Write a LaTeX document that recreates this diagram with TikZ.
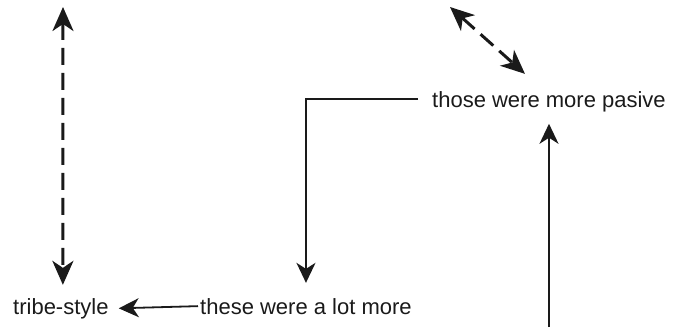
\documentclass[tikz,border=0pt]{standalone}
\usepackage{fontspec}
\setmainfont{Liberation Sans}
\usetikzlibrary{arrows.meta}
\definecolor{ink}{HTML}{1A1A1A}
\tikzset{
  lbl/.style={inner sep=0pt, anchor=base west, text=ink, font=\fontsize{22}{26}\selectfont},
  solidarrow/.style={draw=ink, line width=1.8pt, -{Stealth[length=20pt,width=19pt,inset=6pt]}},
  dasharrow/.style={draw=ink, line width=3pt, dash pattern=on 17pt off 8pt,
    {Stealth[length=24pt,width=21pt,inset=7pt]}-{Stealth[length=24pt,width=21pt,inset=7pt]}},
}
\begin{document}
\begin{tikzpicture}[x=1pt,y=-1pt]
\useasboundingbox (0,0) rectangle (675,327);
\node[lbl] (pasive) at (432,107) {those were more pasive};
\node[lbl] (these) at (200,314) {these were a lot more};
\node[lbl] (tribe) at (13,314) {tribe-style};
\coordinate (dtop) at (63,7);
\coordinate (dtl) at (450,7);
\coordinate (upstart) at (549,327);
\coordinate (upend) at ([yshift=-12pt]pasive.south);
% vertical dashed double arrow
\draw[dasharrow] (dtop) -- ([xshift=2pt,yshift=13pt]tribe.north);
% diagonal dashed double arrow
\draw[dasharrow] (dtl) -- ([xshift=-24pt,yshift=17pt]pasive.north);
% bent arrow from pasive to these
\draw[solidarrow] ([xshift=-14pt,yshift=2pt]pasive.west) -| ([yshift=15pt]these.north);
% horizontal arrow these -> tribe
\draw[solidarrow] ([xshift=-2pt]these.west) -- ([xshift=10pt]tribe.east);
% up arrow to pasive
\draw[solidarrow] (upstart) -- (upstart |- upend);
\end{tikzpicture}
\end{document}
